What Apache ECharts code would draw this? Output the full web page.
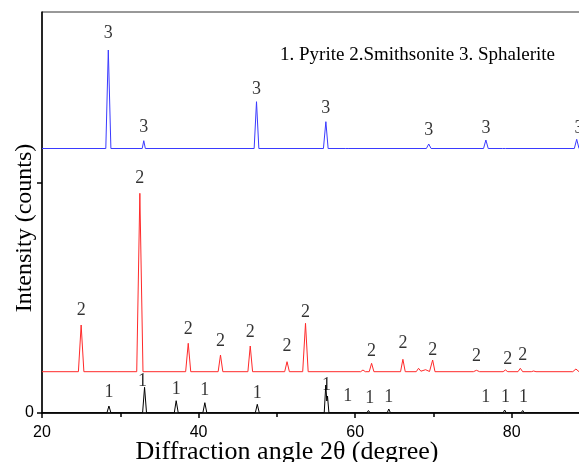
<!DOCTYPE html>
<html>
<head>
<meta charset="utf-8">
<script src="https://cdn.jsdelivr.net/npm/echarts@6/dist/echarts.min.js"></script>
<style>html,body{margin:0;padding:0;background:#fff;}#c{width:579px;height:462px;}</style>
</head>
<body>
<div id="c"></div>
<script>
// Diffraction angle 2θ (degree) vs intensity (arbitrary, stacked patterns)
const xTicks = [20, 40, 60, 80];
const yTickLabels = ['0'];

// Pyrite reference pattern (black)
const pyrite = [
  [20,0.3],[28.3,0.3],[28.55,7],[28.8,0.3],
  [32.85,0.3],[33.1,25.7],[33.35,0.3],
  [36.9,0.3],[37.14,12.3],[37.4,0.3],
  [40.55,0.3],[40.8,10.3],[41.05,0.3],
  [47.25,0.3],[47.5,8.7],[47.75,0.3],
  [56.05,0.3],[56.25,28],[56.38,12],[56.47,17],[56.65,0.3],
  [58.9,0.3],[59.1,2],[59.3,0.3],
  [61.5,0.3],[61.7,2.5],[61.9,0.3],
  [64.1,0.3],[64.3,4],[64.5,0.3],
  [76.5,0.3],[76.7,2],[76.9,0.3],
  [78.9,0.3],[79.1,3],[79.3,0.3],
  [81.2,0.3],[81.4,2.5],[81.6,0.3],
  [83.6,0.3],[83.8,1.5],[84.0,0.3],
  [90,0.3]
];

// Smithsonite pattern (red)
const smithsonite = [
  [20,41.3],[24.65,41.3],[25.0,88],[25.35,41.3],
  [29.2,41.3],[29.45,42.5],[29.7,41.3],
  [32.1,41.3],[32.5,219.7],[32.9,41.3],
  [38.35,41.3],[38.68,69.7],[39.0,41.3],
  [42.5,41.3],[42.8,58],[43.1,41.3],
  [46.3,41.3],[46.6,67],[46.9,41.3],
  [51.0,41.3],[51.3,51.3],[51.6,41.3],
  [53.3,41.3],[53.66,89.7],[54.0,41.3],
  [60.7,41.3],[61.0,43],[61.3,41.3],
  [61.8,41.3],[62.1,49.7],[62.4,41.3],
  [65.8,41.3],[66.1,53.7],[66.4,41.3],
  [67.8,41.3],[68.1,44.7],[68.4,41.8],[69.0,43.3],[69.5,41.5],[69.9,53],[70.2,41.3],
  [75.1,41.3],[75.5,42.7],[75.9,41.3],
  [78.9,41.3],[79.2,43],[79.5,41.3],
  [80.8,41.3],[81.1,44.7],[81.4,41.3],
  [82.5,41.3],[82.8,42],[83.1,41.3],
  [87.8,41.3],[88.2,44],[88.6,41.3],[90,41.3]
];

// Sphalerite pattern (blue)
const sphalerite = [
  [20,264.5],[28.15,264.5],[28.47,363],[28.8,264.5],
  [32.8,264.5],[33.0,272.3],[33.2,264.5],
  [47.1,264.5],[47.4,311.3],[47.7,264.5],
  [55.95,264.5],[56.26,291.3],[56.55,264.5],
  [58.8,264.5],[59.0,266.5],[59.2,264.5],
  [69.1,264.5],[69.4,269],[69.7,264.5],
  [76.4,264.5],[76.7,273],[77.0,264.5],
  [78.8,264.5],[79.0,266],[79.2,264.5],
  [88.0,264.5],[88.3,273.7],[88.6,264.5],[90,264.5]
];

// Peak annotations [2θ, intensity, label]
const pyriteLabels = [
  [28.55,20.3,'1'],[32.85,31.3,'1'],[37.14,24,'1'],[40.8,22.3,'1'],[47.5,20,'1'],
  [56.35,28,'1'],[59.07,17,'1'],[61.87,15,'1'],[64.3,16,'1'],
  [76.68,16,'1'],[79.2,16,'1'],[81.5,16,'1']
];
const smithsoniteLabels = [
  [25.0,103,'2'],[32.5,234.7,'2'],[38.68,83.7,'2'],[42.8,71.3,'2'],[46.6,80.7,'2'],
  [51.3,66.3,'2'],[53.66,100.3,'2'],[62.1,61.3,'2'],[66.1,69.7,'2'],[69.9,63,'2'],
  [75.5,57,'2'],[79.5,53.7,'2'],[81.4,58,'2']
];
const sphaleriteLabels = [
  [28.47,379.7,'3'],[33.0,285.7,'3'],[47.4,323.7,'3'],[56.26,304.7,'3'],
  [69.4,283,'3'],[76.7,284.7,'3'],[88.6,285,'3']
];

const legendText = '1. Pyrite 2.Smithsonite 3. Sphalerite';
const xName = 'Diffraction angle 2\u03b8 (degree)';
const yName = 'Intensity (counts)';

const serif = "'Liberation Serif','Times New Roman',serif";
const sans = "'Liberation Sans',Arial,sans-serif";

function labelSeries(data) {
  return {
    type: 'scatter', data: data, symbolSize: 0, silent: true, z: 5,
    label: {
      show: true, position: 'inside', formatter: p => p.data[2],
      fontFamily: serif, fontSize: 18, color: '#000'
    }
  };
}
function lineSeries(data, color) {
  return {
    type: 'line', data: data, showSymbol: false, smooth: false, silent: true,
    lineStyle: { color: color, width: 1 }, clip: true
  };
}

const chart = echarts.init(document.getElementById('c'), null, { renderer: 'canvas' });
chart.setOption({
  animation: false,
  backgroundColor: '#fff',
  grid: { left: 42, top: 12, right: -11, bottom: 49, outerBoundsMode: 'none', containLabel: false,
          show: true, borderColor: '#333', borderWidth: 1, backgroundColor: 'transparent' },
  xAxis: {
    type: 'value', min: 20, max: 90, interval: 20,
    axisLine: { lineStyle: { color: '#000', width: 1.5 } },
    axisTick: { show: true, inside: false, length: 5, lineStyle: { color: '#000', width: 1.5 } },
    minorTick: { show: true, splitNumber: 2, length: 4, lineStyle: { color: '#000', width: 1.5 } },
    splitLine: { show: false },
    axisLabel: {
      fontFamily: sans, fontSize: 16, color: '#000', margin: 12,
      formatter: v => xTicks.indexOf(v) >= 0 ? String(v) : ''
    }
  },
  yAxis: {
    type: 'value', min: 0, max: 401, interval: 230,
    axisLine: { show: true, lineStyle: { color: '#000', width: 1.5 } },
    axisTick: { show: true, inside: false, length: 5, customValues: [0, 230], lineStyle: { color: '#000', width: 1.5 } },
    splitLine: { show: false },
    axisLabel: {
      fontFamily: sans, fontSize: 16, color: '#000', margin: 8,
      customValues: [0],
      formatter: v => v === 0 ? yTickLabels[0] : ''
    }
  },
  series: [
    lineSeries(pyrite, '#000000'),
    lineSeries(smithsonite, '#ff2a2a'),
    lineSeries(sphalerite, '#3a3aff'),
    labelSeries(pyriteLabels),
    labelSeries(smithsoniteLabels),
    labelSeries(sphaleriteLabels)
  ],
  graphic: [
    { type: 'text', x: 280, y: 55, style: { text: legendText, font: '19px ' + serif, fill: '#000', verticalAlign: 'middle' } },
    { type: 'text', x: 287, y: 452, style: { text: xName, font: '26px ' + serif, fill: '#000', align: 'center', verticalAlign: 'middle' } },
    { type: 'text', x: 25, y: 228, rotation: Math.PI / 2, style: { text: yName, font: '24px ' + serif, fill: '#000', align: 'center', verticalAlign: 'middle' } }
  ]
});
</script>
</body>
</html>
